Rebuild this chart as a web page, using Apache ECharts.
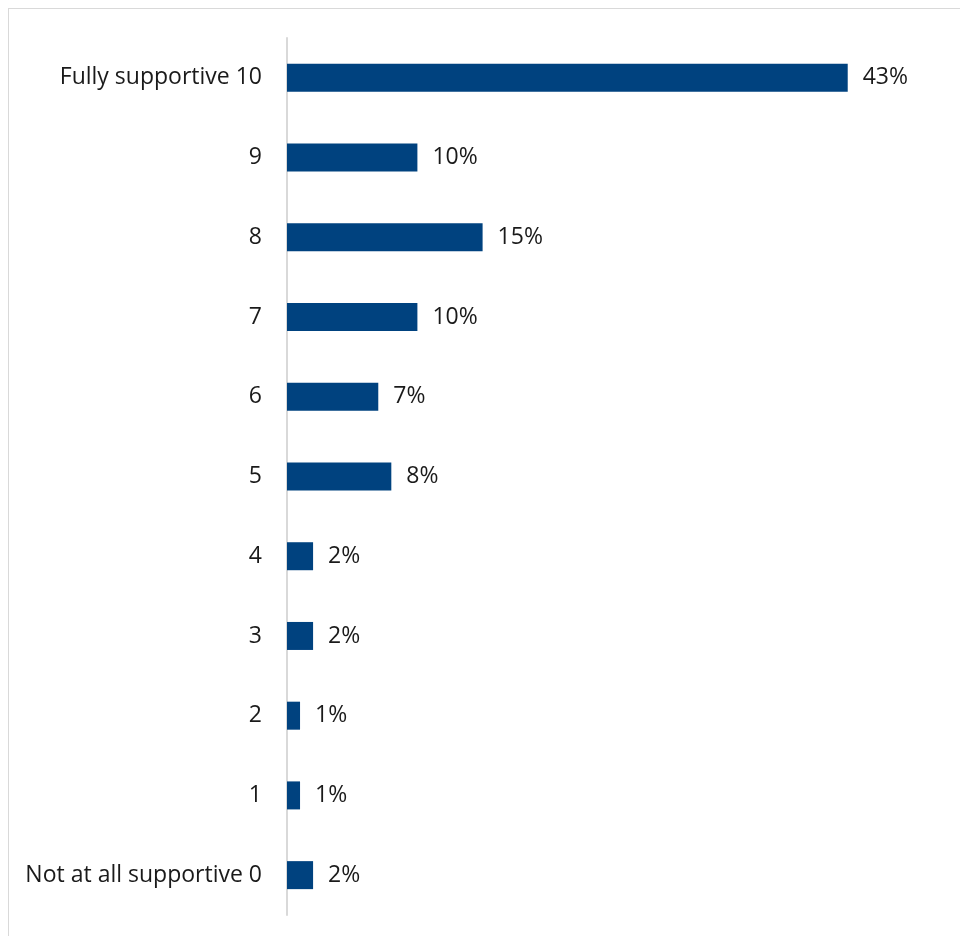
<!DOCTYPE html>
<html>
<head>
<meta charset="utf-8">
<script src="https://cdn.jsdelivr.net/npm/echarts@6/dist/echarts.min.js"></script>
<style>
html,body{margin:0;padding:0;background:#fff;overflow:hidden;}
#frame{position:absolute;left:8px;top:8px;width:1000px;height:1000px;border:1.5px solid #d9d9d9;box-sizing:border-box;}
#chart{position:absolute;left:0;top:0;width:960px;height:936px;}
</style>
</head>
<body>
<div id="frame"></div>
<div id="chart"></div>
<script>
const categories = ["Not at all supportive 0","1","2","3","4","5","6","7","8","9","Fully supportive 10"];
const values = [2,1,1,2,2,8,7,10,15,10,43];

const chart = echarts.init(document.getElementById('chart'));
chart.setOption({
  animation:false,
  grid:{left:287, right:21, top:38, bottom:21, containLabel:false},
  xAxis:{type:'value', min:0, max:50, show:false},
  yAxis:{
    type:'category', data:categories,
    axisLine:{show:true, lineStyle:{color:'#d9d9d9', width:2}},
    axisTick:{show:false},
    axisLabel:{color:'#1a1a1a', fontFamily:'Open Sans', fontSize:23, margin:25, lineHeight:28, padding:[4,0,0,0]}
  },
  series:[{
    type:'bar', data:values, barWidth:28,
    itemStyle:{color:'#00427f'},
    label:{show:true, position:'right', distance:15, formatter:'{c}%', color:'#1a1a1a', fontFamily:'Open Sans', fontSize:23, lineHeight:28, padding:[4,0,0,0]}
  }]
});
</script>
</body>
</html>
